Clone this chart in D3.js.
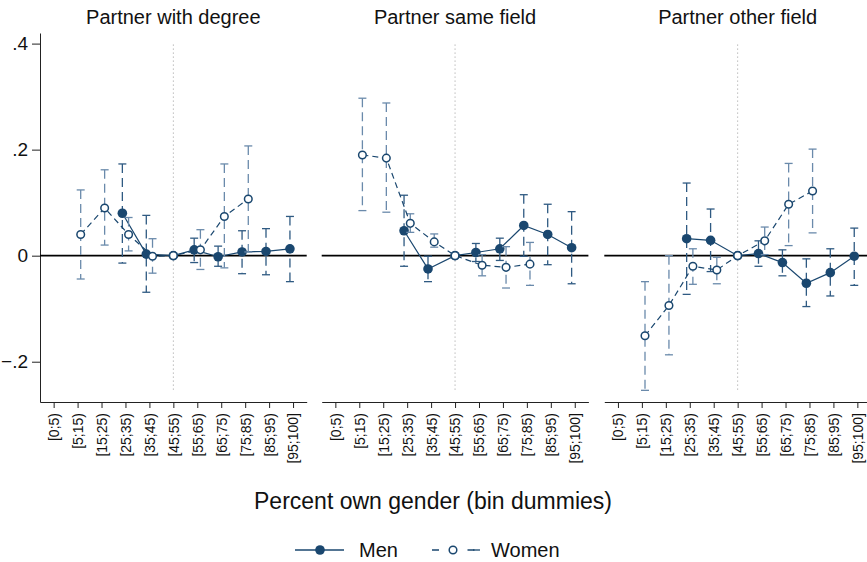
<!DOCTYPE html>
<html>
<head>
<meta charset="utf-8">
<script src="https://cdn.jsdelivr.net/npm/d3@7"></script>
<style>
  body { margin: 0; background: #fff; }
  svg { display: block; font-family: "Liberation Sans", Arial, Helvetica, sans-serif; }
</style>
</head>
<body>
<script>
// bins (x categories)
const bins = ["[0;5)", "[5;15)", "[15;25)", "[25;35)", "[35;45)", "[45;55)",
              "[55;65)", "[65;75)", "[75;85)", "[85;95)", "[95;100]"];
const refBin = 5;

const panelTitles = ["Partner with degree", "Partner same field", "Partner other field"];

// estimates, lower and upper CI per panel (null = not estimated)
const menEst = [
  [null, null, null, 0.080, 0.003, 0, 0.011, -0.002, 0.007, 0.008, 0.013],
  [null, null, null, 0.047, -0.025, 0, 0.006, 0.013, 0.057, 0.040, 0.015],
  [null, null, null, 0.032, 0.029, 0, 0.004, -0.013, -0.052, -0.032, -0.001]
];
const menLo = [
  [null, null, null, -0.014, -0.069, null, -0.013, -0.020, -0.034, -0.036, -0.049],
  [null, null, null, -0.020, -0.049, null, -0.011, -0.009, -0.001, -0.017, -0.053],
  [null, null, null, -0.073, -0.030, null, -0.020, -0.038, -0.096, -0.076, -0.056]
];
const menHi = [
  [null, null, null, 0.173, 0.076, null, 0.033, 0.018, 0.047, 0.051, 0.074],
  [null, null, null, 0.114, -0.001, null, 0.023, 0.033, 0.115, 0.097, 0.083],
  [null, null, null, 0.137, 0.088, null, 0.028, 0.011, -0.006, 0.013, 0.052]
];

const womenEst = [
  [null, 0.040, 0.090, 0.040, -0.001, 0, 0.011, 0.074, 0.107, null, null],
  [null, 0.190, 0.184, 0.061, 0.026, 0, -0.018, -0.022, -0.016, null, null],
  [null, -0.151, -0.094, -0.020, -0.027, 0, 0.028, 0.097, 0.122, null, null]
];
const womenLo = [
  [null, -0.044, 0.020, 0.009, -0.033, null, -0.026, -0.023, 0.007, null, null],
  [null, 0.085, 0.082, 0.044, 0.016, null, -0.038, -0.061, -0.056, null, null],
  [null, -0.254, -0.187, -0.054, -0.053, null, 0.002, 0.019, 0.043, null, null]
];
const womenHi = [
  [null, 0.124, 0.162, 0.072, 0.032, null, 0.049, 0.173, 0.207, null, null],
  [null, 0.297, 0.288, 0.079, 0.041, null, 0.002, 0.017, 0.025, null, null],
  [null, -0.049, 0.000, 0.013, -0.003, null, 0.054, 0.174, 0.201, null, null]
];

const yTicks = [-0.2, 0, 0.2, 0.4];

const width = 867, height = 562;
const navy = "#1a476f";
const menCI = "#2f5a82";
const womenCI = "#6a8aab";

const svg = d3.select("body").append("svg")
    .attr("width", width)
    .attr("height", height);

const panelLeft = [40, 321.7, 604.3];
const panelW = 266.7;

const y = d3.scaleLinear().domain([-0.276, 0.42]).range([402, 33]);

const series = [
  {name: "Men", est: menEst, lo: menLo, hi: menHi, off: -0.13, ci: menCI, filled: true, dash: null},
  {name: "Women", est: womenEst, lo: womenLo, hi: womenHi, off: 0.13, ci: womenCI, filled: false, dash: "6,4"}
];

panelTitles.forEach((title, p) => {
  const x = d3.scaleLinear().domain([-0.57, 10.57])
      .range([panelLeft[p], panelLeft[p] + panelW]);
  const g = svg.append("g");

  g.append("text")
      .attr("x", panelLeft[p] + panelW / 2)
      .attr("y", 24)
      .attr("text-anchor", "middle")
      .attr("font-size", 20)
      .attr("fill", "#111")
      .text(title);

  // x axis
  const xAxis = g.append("g")
      .attr("transform", "translate(0,402)")
      .call(d3.axisBottom(x).tickValues(d3.range(bins.length))
          .tickFormat(i => bins[i]).tickSize(6).tickSizeOuter(0));
  xAxis.select(".domain").attr("stroke", "#222");
  xAxis.selectAll(".tick line").attr("stroke", "#222");
  xAxis.selectAll(".tick text")
      .attr("font-family", "Liberation Sans, Arial, sans-serif")
      .attr("font-size", 14)
      .attr("fill", "#111")
      .attr("transform", "rotate(-90)")
      .attr("text-anchor", "end")
      .attr("x", -11)
      .attr("y", 0)
      .attr("dy", "0.35em");

  if (p === 0) {
    const yAxis = g.append("g")
        .attr("transform", `translate(${panelLeft[p]},0)`)
        .call(d3.axisLeft(y).tickValues(yTicks)
            .tickFormat(v => v === 0 ? "0" : d3.format(".1f")(v).replace("0.", ".")).tickSize(8).tickSizeOuter(0));
    yAxis.select(".domain").attr("stroke", "#222");
    yAxis.selectAll(".tick line").attr("stroke", "#222");
    yAxis.selectAll(".tick text")
        .attr("font-family", "Liberation Sans, Arial, sans-serif")
        .attr("font-size", 19)
        .attr("fill", "#111")
        .attr("x", -12);
  }

  // reference lines
  g.append("line")
      .attr("x1", x(refBin)).attr("x2", x(refBin))
      .attr("y1", y(0.4) + 1).attr("y2", 390)
      .attr("stroke", "#999").attr("stroke-width", 1)
      .attr("stroke-dasharray", "1,3");
  g.append("line")
      .attr("x1", panelLeft[p]).attr("x2", panelLeft[p] + panelW)
      .attr("y1", y(0)).attr("y2", y(0))
      .attr("stroke", "#000").attr("stroke-width", 1.8);

  const xpos = (s, i) => x(i + (i === refBin ? 0 : s.off));

  series.forEach(s => {
    const pts = s.est[p].map((v, i) => ({i, v, lo: s.lo[p][i], hi: s.hi[p][i]}))
        .filter(d => d.v !== null);

    const ci = pts.filter(d => d.lo !== null);
    g.selectAll(null).data(ci).enter().append("line")
        .attr("x1", d => xpos(s, d.i)).attr("x2", d => xpos(s, d.i))
        .attr("y1", d => y(d.hi)).attr("y2", d => y(d.lo))
        .attr("stroke", s.ci).attr("stroke-width", 1.3)
        .attr("stroke-dasharray", "9,5");
    ["lo", "hi"].forEach(k => {
      g.selectAll(null).data(ci).enter().append("line")
          .attr("x1", d => xpos(s, d.i) - 4).attr("x2", d => xpos(s, d.i) + 4)
          .attr("y1", d => y(d[k])).attr("y2", d => y(d[k]))
          .attr("stroke", s.ci).attr("stroke-width", 1.3);
    });

    g.append("path")
        .datum(pts)
        .attr("fill", "none")
        .attr("stroke", navy)
        .attr("stroke-width", 1.2)
        .attr("stroke-dasharray", s.dash)
        .attr("d", d3.line().x(d => xpos(s, d.i)).y(d => y(d.v)));

    g.selectAll(null).data(pts).enter().append("circle")
        .attr("cx", d => xpos(s, d.i))
        .attr("cy", d => y(d.v))
        .attr("r", s.filled ? 4.8 : 3.8)
        .attr("fill", s.filled ? navy : "#fff")
        .attr("stroke", navy)
        .attr("stroke-width", s.filled ? 0 : 1.5);
  });
});

// x axis title
svg.append("text")
    .attr("x", 433)
    .attr("y", 509)
    .attr("text-anchor", "middle")
    .attr("font-size", 23)
    .attr("fill", "#111")
    .text("Percent own gender (bin dummies)");

// legend
const legend = svg.append("g");
legend.append("line").attr("x1", 295).attr("x2", 344).attr("y1", 550).attr("y2", 550)
    .attr("stroke", navy).attr("stroke-width", 1.3);
legend.append("circle").attr("cx", 320).attr("cy", 550).attr("r", 4.8).attr("fill", navy);
legend.append("text").attr("x", 359).attr("y", 557).attr("font-size", 20).attr("fill", "#111").text("Men");

legend.append("line").attr("x1", 432).attr("x2", 480).attr("y1", 550).attr("y2", 550)
    .attr("stroke", navy).attr("stroke-width", 1.3).attr("stroke-dasharray", "7,28.5");
legend.append("line").attr("x1", 473).attr("x2", 480).attr("y1", 550).attr("y2", 550)
    .attr("stroke", navy).attr("stroke-width", 1.3);
legend.append("circle").attr("cx", 453).attr("cy", 550).attr("r", 3.8)
    .attr("fill", "#fff").attr("stroke", navy).attr("stroke-width", 1.5);
legend.append("text").attr("x", 491).attr("y", 557).attr("font-size", 20).attr("fill", "#111").text("Women");
</script>
</body>
</html>
